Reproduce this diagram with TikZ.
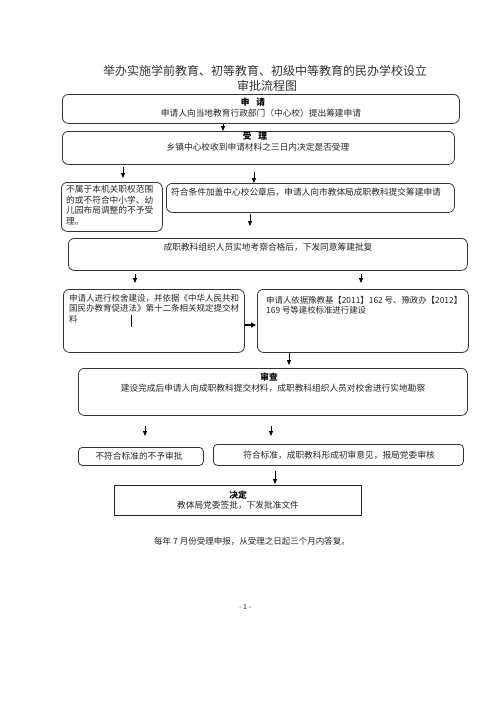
\documentclass[tikz,border=0pt]{standalone}
\usepackage{fontspec}
\setmainfont{Noto Sans CJK SC}
\usetikzlibrary{arrows.meta}
\begin{document}
\begin{tikzpicture}[x=1pt,y=-1pt,
  box/.style={draw=black!80, line width=0.8pt, rounded corners=6pt, inner sep=0pt, anchor=north west},
  sqbox/.style={draw=black!85, line width=1.1pt, inner sep=0pt, anchor=north west},
  txt/.style={font=\fontsize{8.7}{10.6}\selectfont, text=black!85, inner sep=0pt},
  hd/.style={font=\fontsize{8.7}{10.6}\selectfont\bfseries, text=black, inner sep=0pt},
  arr/.style={-{Triangle[length=5pt,width=4pt]}, line width=0.8pt, black}]
\useasboundingbox[fill=white] (0,0) rectangle (496,702);
% title
\node[font=\fontsize{12}{14}\selectfont, text=black!80, inner sep=0pt] (t1) at (265,71) {举办实施学前教育、初等教育、初级中等教育的民办学校设立};
\node[font=\fontsize{12}{14}\selectfont, text=black!80, inner sep=0pt] (t2) at (267,86) {审批流程图};
% boxes
\node[box, minimum width=397pt, minimum height=29pt] (b1) at (62,94) {};
\node[box, minimum width=392pt, minimum height=33pt] (b2) at (62,131) {};
\node[box, minimum width=101pt, minimum height=49pt] (b3) at (61,182) {};
\node[box, minimum width=288pt, minimum height=29pt] (b4) at (166,183) {};
\node[box, minimum width=399pt, minimum height=32pt] (b5) at (68,238) {};
\node[box, minimum width=181pt, minimum height=63pt] (b6) at (63,289) {};
\node[box, minimum width=211pt, minimum height=63pt] (b7) at (257,289) {};
\node[box, minimum width=389pt, minimum height=47pt] (b8) at (78,368) {};
\node[box, rounded corners=4pt, minimum width=125pt, minimum height=18pt] (b9) at (78,447) {};
\node[box, rounded corners=4pt, minimum width=250pt, minimum height=21pt] (b10) at (213,444) {};
\node[sqbox, minimum width=247pt, minimum height=30pt] (b11) at (114,485) {};
% texts
\node[hd] (h1) at (253,102) {申\hspace{0.8em}请};
\node[txt] (c1) at (261,113) {申请人向当地教育行政部门（中心校）提出筹建申请};
\node[hd] (h2) at (255,136) {受\hspace{0.8em}理};
\node[txt] (c2) at (258,147) {乡镇中心校收到申请材料之三日内决定是否受理};
\node[txt, align=left, anchor=north west] (c3) at (66,185) {不属于本机关职权范围\\的或不符合中小学、幼\\儿园布局调整的不予受\\理。};
\node[txt, anchor=west] (c4) at (171,192) {符合条件加盖中心校公章后，申请人向市教体局成职教科提交筹建申请};
\node[txt] (c5) at (268,247) {成职教科组织人员实地考察合格后，下发同意筹建批复};
\node[txt, align=left, anchor=north west, font=\fontsize{8.5}{10.5}\selectfont] (c6) at (69,294) {申请人进行校舍建设，并依据《中华人民共和\\国民办教育促进法》第十二条相关规定提交材\\料};
\node[txt, align=left, anchor=north west, font=\fontsize{8.4}{10.5}\selectfont] (c7) at (266,296) {申请人依据豫教基【2011】162 号、豫政办【2012】\\169 号等建校标准进行建设};
\node[hd] (h8) at (269,377) {审查};
\node[txt] (c8) at (273,388) {建设完成后申请人向成职教科提交材料，成职教科组织人员对校舍进行实地勘察};
\node[txt] (c9) at (139,456) {不符合标准的不予审批};
\node[txt] (c10) at (339,455) {符合标准，成职教科形成初审意见，报局党委审核};
\node[hd] (h11) at (238,495) {决定};
\node[txt] (c11) at (238,505) {教体局党委签批，下发批准文件};
\node[txt, font=\fontsize{8.5}{10}\selectfont] (foot) at (252,541) {每年 7 月份受理申报，从受理之日起三个月内答复。};
\node[txt, font=\fontsize{7}{8}\selectfont] (pg) at (245,607) {- 1 -};
% cursor bar
\draw[line width=0.7pt] (131,315) -- (131,327);
% arrows
\draw[arr] (223,0 |- b1.south) -- (223,0 |- b2.north);
\draw[arr, shorten <=2pt, shorten >=4pt] (123,0 |- b2.south) -- (123,0 |- b3.north);
\draw[arr, shorten <=7pt] (254,0 |- b2.south) -- (254,0 |- b4.north);
\draw[arr, shorten <=1pt, shorten >=12pt] (250,0 |- b4.south) -- (250,0 |- b5.north);
\draw[arr, shorten <=3pt, shorten >=6pt] (135,0 |- b5.south) -- (135,0 |- b6.north);
\draw[arr, shorten <=3pt, shorten >=6pt] (361,0 |- b5.south) -- (361,0 |- b7.north);
\draw[arr, line width=1.5pt, -{Triangle[length=5pt,width=5pt]}, shorten >=1pt] (b6.east |- 0,325) -- (b7.west |- 0,325);
\draw[arr, shorten >=3pt] (289,0 |- b7.south) -- (289,0 |- b8.north);
\draw[arr, shorten <=10pt, shorten >=11pt] (145,0 |- b8.south) -- (145,0 |- b9.north);
\draw[arr, shorten <=10pt, shorten >=8pt] (271,0 |- b8.south) -- (271,0 |- b10.north);
\draw[arr, shorten <=5pt, shorten >=1pt] (275,0 |- b10.south) -- (275,0 |- b11.north);
\end{tikzpicture}
\end{document}
